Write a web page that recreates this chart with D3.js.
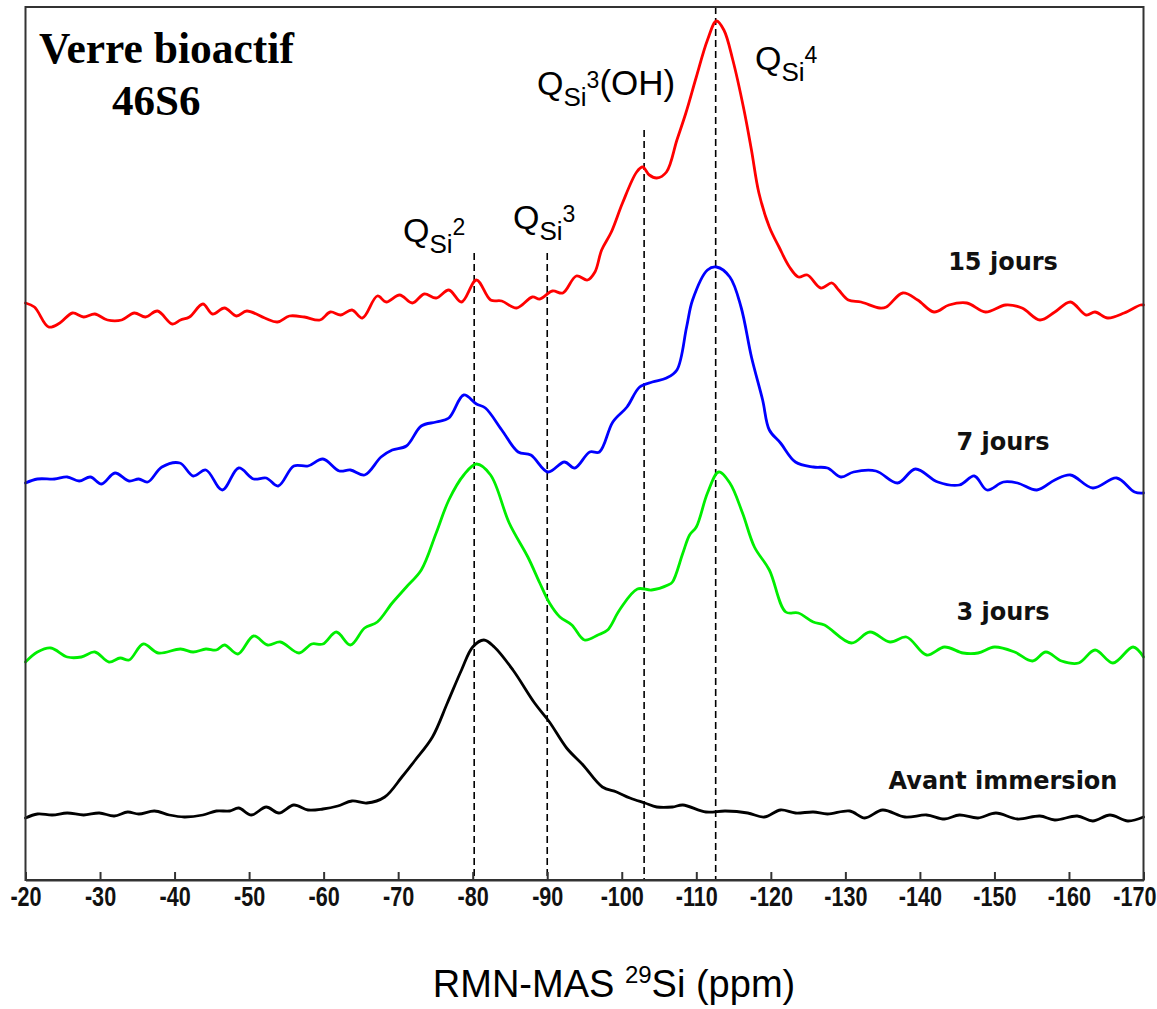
<!DOCTYPE html>
<html><head><meta charset="utf-8">
<script src="https://cdn.jsdelivr.net/npm/d3@7"></script>
<style>body{margin:0;background:#fff}svg{display:block}</style>
</head><body><svg id="c" width="1157" height="1009"></svg>
<script>
// ---- data (chemical shift in ppm, intensity in arbitrary units incl. vertical offset) ----
const ppmTicks = [-20,-30,-40,-50,-60,-70,-80,-90,-100,-110,-120,-130,-140,-150,-160,-170];
const seriesNames = ["Avant immersion","3 jours","7 jours","15 jours"];

const specAvant = [[-20,62],[-21.6,66],[-23.6,65],[-25.6,67],[-27.8,65],[-29.9,67],[-31.9,64],[-33.7,68],[-35.2,66],[-37.3,69],[-39.3,65],[-41.3,63],[-43.8,65],[-45.6,69],[-47.4,69],[-48.6,72],[-50.3,65],[-52.3,73],[-54.0,67],[-56.0,75],[-57.9,70],[-59.9,71],[-61.9,74],[-63.8,79],[-65.8,77],[-68.2,83],[-70.5,103],[-72.3,120],[-74.6,143],[-76.6,177],[-78.5,210],[-80.0,233],[-81.5,240],[-82.9,233],[-85.4,210],[-88.3,177],[-90.3,158],[-92.6,132],[-94.8,115],[-97.4,93],[-99.3,88],[-101.1,82],[-103.1,77],[-104.7,73],[-106.8,73],[-108.2,75],[-111.3,68],[-113.9,69],[-116.9,67],[-119.1,63],[-121.3,70],[-123.3,67],[-125.7,68],[-127.6,66],[-130.6,69],[-132.6,62],[-135.0,70],[-138.0,63],[-140.9,65],[-143.3,61],[-145.3,65],[-147.8,62],[-150.2,67],[-153.1,61],[-156.1,64],[-158.1,60],[-161.1,64],[-163.2,59],[-165.5,65],[-167.9,59],[-170,63]];

const spec3j = [[-20,218],[-21.6,228],[-23.4,232],[-25.6,223],[-27.5,223],[-29.3,228],[-31.2,218],[-32.7,222],[-33.9,220],[-35.8,236],[-37.8,227],[-40.8,231],[-42.5,228],[-44.2,231],[-45.6,230],[-46.7,235],[-48.5,226],[-50.6,244],[-52.5,235],[-54.2,238],[-56.7,227],[-58.4,236],[-59.9,236],[-61.7,248],[-63.6,235],[-65.5,252],[-67.2,258],[-69.2,277],[-71.1,293],[-73.1,310],[-75.1,347],[-76.8,380],[-78.8,405],[-80.5,416],[-82.4,405],[-84.9,357],[-87.4,323],[-89.0,297],[-90.3,277],[-91.7,263],[-93.3,255],[-95.0,240],[-96.8,245],[-98.1,250],[-99.7,270],[-102.1,291],[-104.0,290],[-106.2,295],[-106.8,298],[-108.2,327],[-109.1,345],[-110.0,353],[-111.5,387],[-113.0,408],[-114.5,397],[-116.2,367],[-117.8,333],[-119.8,310],[-122.0,268],[-123.7,267],[-125.7,258],[-127.2,255],[-130.8,237],[-133.3,248],[-136.0,238],[-138.2,243],[-140.9,225],[-143.3,233],[-145.8,227],[-147.8,227],[-150.0,233],[-152.7,228],[-155.1,219],[-156.9,228],[-159.0,219],[-161.3,217],[-163.5,230],[-165.9,217],[-168.6,233],[-170,223]];

const spec7j = [[-20,397],[-21.6,401],[-23.9,401],[-25.6,403],[-27.2,399],[-28.7,403],[-30.2,396],[-32.0,407],[-33.9,399],[-35.2,401],[-36.4,398],[-38.3,413],[-40.7,417],[-42.5,404],[-44.2,410],[-46.4,390],[-48.6,412],[-50.6,401],[-52.3,402],[-53.9,394],[-56.0,414],[-57.9,414],[-59.9,421],[-62.1,409],[-63.6,410],[-65.5,405],[-67.7,423],[-69.2,430],[-71.1,434],[-73.1,454],[-75.1,458],[-76.8,462],[-78.8,485],[-80.5,476],[-81.7,472],[-83.9,450],[-86.1,428],[-87.8,425],[-90.1,408],[-92.3,418],[-93.7,412],[-95.7,428],[-97.0,428],[-98.8,458],[-100.7,473],[-102.4,493],[-104.1,498],[-106.0,502],[-107.4,510],[-108.7,553],[-109.5,580],[-111.5,610],[-112.7,613],[-114.5,603],[-116.0,573],[-117.4,523],[-118.9,480],[-119.8,450],[-121.3,437],[-123.3,418],[-125.7,413],[-127.6,412],[-129.4,403],[-131.1,408],[-134.1,409],[-137.0,397],[-139.4,411],[-142.4,398],[-145.3,395],[-147.3,404],[-149.0,390],[-151.2,398],[-153.1,397],[-155.7,390],[-158.1,400],[-160.2,405],[-163.2,392],[-166.4,402],[-168.8,388],[-170,387]];

const spec15j = [[-20,577],[-21.2,573],[-23.1,553],[-24.6,557],[-26.3,567],[-27.8,563],[-29.3,566],[-31.0,560],[-32.9,560],[-34.6,567],[-36.1,563],[-37.7,569],[-39.7,556],[-40.8,560],[-42.0,563],[-43.8,576],[-45.1,566],[-46.7,572],[-48.3,564],[-49.7,569],[-52.1,562],[-53.8,558],[-55.4,564],[-57.4,563],[-59.5,560],[-60.9,568],[-62.3,565],[-63.8,570],[-65.2,562],[-67.2,584],[-68.4,578],[-70.2,585],[-71.9,577],[-73.5,586],[-75.1,582],[-76.8,590],[-78.5,578],[-80.5,600],[-82.4,580],[-83.9,579],[-85.9,572],[-88.0,583],[-89.0,581],[-90.7,589],[-92.1,587],[-93.9,604],[-95.4,600],[-96.4,608],[-97.3,630],[-98.6,648],[-100.1,677],[-102.0,708],[-102.8,713],[-103.7,705],[-104.7,702],[-106.0,708],[-107.4,740],[-108.6,767],[-110.0,803],[-111.5,840],[-112.7,859],[-113.7,850],[-114.9,820],[-116.4,770],[-117.4,730],[-118.4,687],[-119.8,653],[-121.1,633],[-122.5,613],[-123.7,603],[-124.9,605],[-126.7,592],[-128.2,597],[-129.1,590],[-130.4,580],[-132.1,578],[-134.6,572],[-135.5,573],[-137.7,587],[-139.7,580],[-141.9,568],[-143.9,575],[-146.3,577],[-148.8,568],[-151.5,575],[-153.7,572],[-156.1,560],[-158.1,568],[-160.2,578],[-162.3,565],[-163.5,568],[-165.2,562],[-167.4,567],[-169.6,575],[-170,575]];

// reference lines: site, position (ppm), top of the dashed line (a.u.)
const refSites = ["2","3","3","4"];
const refPpm = [-80.2,-90.0,-103.0,-112.6];
const refTop = [627,627,750,873];
const refSuffix = ["","","(OH)",""];

const titleLines = ["Verre bioactif","46S6"];
const xTitle = ["RMN-MAS ","29","Si (ppm)"];

// ---- drawing ----
const svg = d3.select("#c");
const L = 25.5, R = 1143.5, T = 7, B = 880;
const x = d3.scaleLinear().domain([-20,-170]).range([L,R]);
const y = d3.scaleLinear().domain([0,880]).range([880,0]);

// dashed reference lines (behind curves)
svg.append("g").selectAll("line").data(refPpm).join("line")
  .attr("x1",d=>x(d)).attr("x2",d=>x(d))
  .attr("y1",(d,i)=>y(refTop[i])).attr("y2",B)
  .attr("stroke","#000").attr("stroke-width",1.6).attr("stroke-dasharray","7,4");

// spectra
const specs = [specAvant,spec3j,spec7j,spec15j];
const colors = ["#000000","#00ee00","#0000ff","#ff0000"];
const line = d3.line().x(d=>x(d[0])).y(d=>y(d[1])).curve(d3.curveCatmullRom.alpha(0.5));
svg.append("g").selectAll("path").data(specs).join("path")
  .attr("d",line).attr("fill","none")
  .attr("stroke",(d,i)=>colors[i]).attr("stroke-width",2.8)
  .attr("stroke-linejoin","round").attr("stroke-linecap","round");

// frame
svg.append("rect").attr("x",L).attr("y",T).attr("width",R-L).attr("height",B-T)
  .attr("fill","none").attr("stroke","#333").attr("stroke-width",2);

// x axis
const ax = svg.append("g").attr("transform",`translate(0,${B})`)
  .call(d3.axisBottom(x).tickValues(ppmTicks).tickSizeInner(-8).tickSizeOuter(0)
        .tickPadding(7).tickFormat(d=>String(d)));
ax.select(".domain").attr("stroke","#333").attr("stroke-width",2);
ax.selectAll(".tick line").attr("stroke","#333").attr("stroke-width",2);
const sx = 0.8;
ax.selectAll(".tick text").attr("fill","#111").attr("transform",`scale(${sx},1)`)
  .style("font-family","'Liberation Sans',Arial,sans-serif")
  .style("font-weight","bold").style("font-size","27px");
// keep the last label inside the canvas
ax.selectAll(".tick text").filter(d=>d===ppmTicks[ppmTicks.length-1])
  .attr("text-anchor","end").attr("x",(1156-R)/sx);

// axis title
const xt = svg.append("text").attr("x",614).attr("y",997).attr("text-anchor","middle")
  .style("font-family","'Liberation Sans',Arial,sans-serif").style("font-size","38px").attr("fill","#000");
xt.append("tspan").text(xTitle[0]);
xt.append("tspan").text(xTitle[1]).style("font-size","24px").attr("dy",-14);
xt.append("tspan").text(xTitle[2]).attr("dy",14);

// chart title
svg.append("text").attr("x",39).attr("y",63).text(titleLines[0])
  .style("font-family","'Liberation Serif','Times New Roman',serif").style("font-weight","bold").style("font-size","43.5px");
svg.append("text").attr("x",112).attr("y",115).text(titleLines[1])
  .style("font-family","'Liberation Serif','Times New Roman',serif").style("font-weight","bold").style("font-size","43px");

// Q labels
const qPos = [[403,242],[513,229],[537,95],[755,70]];
refSites.forEach((s,i)=>{
  const t = svg.append("text").attr("x",qPos[i][0]).attr("y",qPos[i][1])
    .style("font-family","'Liberation Sans',Arial,sans-serif").attr("fill","#000");
  t.append("tspan").text("Q").style("font-size","34px");
  t.append("tspan").text("Si").style("font-size","26px").attr("dy",11);
  t.append("tspan").text(s).style("font-size","23px").attr("dy",-18);
  if (refSuffix[i]) t.append("tspan").text(refSuffix[i]).style("font-size","35px").attr("dy",7);
});

// series labels
const labY = [789,620,450,270];
svg.append("g").selectAll("text").data(seriesNames).join("text")
  .attr("x",1003).attr("y",(d,i)=>labY[i]).attr("text-anchor","middle").text(d=>d)
  .style("font-family","'DejaVu Sans',Verdana,sans-serif").style("font-weight","bold")
  .style("font-size","24px").attr("fill","#111");
</script></body></html>
